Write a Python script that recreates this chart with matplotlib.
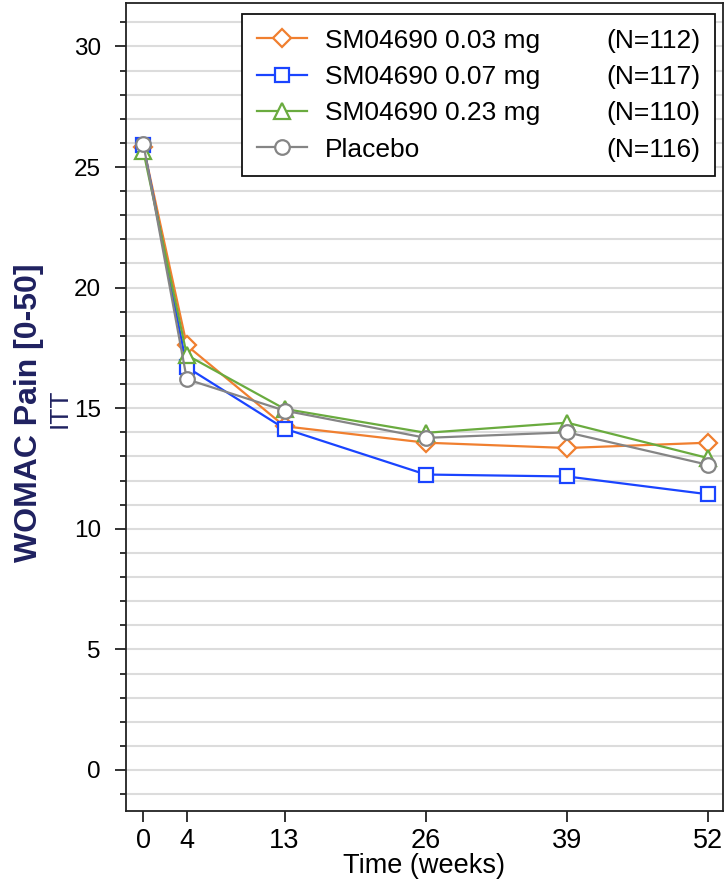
import matplotlib
matplotlib.use("Agg")
import matplotlib.pyplot as plt
from matplotlib.lines import Line2D
from matplotlib import font_manager as fm

weeks = [0, 4, 13, 26, 39, 52]
x_ticks = [0, 4, 13, 26, 39, 52]
y_ticks = [0, 5, 10, 15, 20, 25, 30]

dose_003 = [25.85, 17.6, 14.25, 13.57, 13.35, 13.57]
dose_007 = [25.9, 16.7, 14.15, 12.25, 12.17, 11.43]
dose_023 = [25.65, 17.2, 14.97, 13.98, 14.4, 12.93]
placebo = [25.95, 16.2, 14.9, 13.77, 14.0, 12.65]

series_names = ["SM04690 0.03 mg", "SM04690 0.07 mg", "SM04690 0.23 mg", "Placebo"]
series_n = ["(N=112)", "(N=117)", "(N=110)", "(N=116)"]
series_vals = [dose_003, dose_007, dose_023, placebo]
colors = ["#F07F2F", "#1A44FF", "#6AAB3F", "#858585"]
markers = ["D", "s", "^", "o"]
msizes = [9, 10, 11, 10.5]

available = {f.name for f in fm.fontManager.ttflist}
base = "Liberation Sans" if "Liberation Sans" in available else "DejaVu Sans"
narrow = "Liberation Sans Narrow" if "Liberation Sans Narrow" in available else base
plt.rcParams["font.family"] = [base, "DejaVu Sans"]

FS = 19.5

fig = plt.figure(figsize=(7.25, 8.84), dpi=100)
ax = fig.add_axes([126 / 725, 1 - 811 / 884, (723 - 126) / 725, (811 - 3) / 884])

for vals, name, c, m, ms in zip(series_vals, series_names, colors, markers, msizes):
    ax.plot(weeks, vals, color=c, lw=1.6, marker=m, ms=ms,
            mfc="white", mec=c, mew=1.6, label=name, zorder=3)

ax.set_xlim(-1.6, 53.35)
ax.set_ylim(-1.7, 31.8)
ax.set_xticks(x_ticks)
ax.set_yticks(y_ticks)
ax.set_yticks(range(-1, 32), minor=True)
ax.tick_params(axis="both", which="major", length=8, width=1.3, color="#222222", direction="out")
ax.tick_params(axis="x", which="major", labelsize=FS, pad=4)
ax.tick_params(axis="y", which="major", labelsize=17.5, pad=10)
ax.tick_params(axis="y", which="minor", length=4, width=1.3, color="#222222")
for yv in range(-1, 32):
    ax.axhline(yv, color="#dcdcdc", lw=1.5, zorder=1)
for sp in ax.spines.values():
    sp.set_color("#222222")
    sp.set_linewidth(1.3)

ax.set_xlabel("Time (weeks)", fontsize=FS, va="center")
ax.xaxis.set_label_coords(0.5, (811 - 866) / 808)

fig.text(29 / 725, 1 - 413 / 884, "WOMAC Pain [0-50]", rotation=90, ha="center", va="center",
         fontsize=23, fontweight="bold", color="#1F2160", family=[narrow, base])
fig.text(60 / 725, 1 - 408 / 884, "ITT", rotation=90, ha="center", va="center",
         fontsize=19, color="#1F2160", family=[narrow, base])

handles = ax.get_legend_handles_labels()[0]
empty = [Line2D([], [], linestyle="none") for _ in series_n]
x0 = (242 - 126) / 597
x1 = (715 - 126) / 597
ytop = (811 - 14) / 808
ybot = (811 - 173) / 808
leg = ax.legend(handles + empty, series_names + series_n, ncol=2, mode="expand",
                loc="upper left", bbox_to_anchor=(x0, ybot, x1 - x0, ytop - ybot),
                borderaxespad=0, fontsize=19, frameon=True, fancybox=False,
                edgecolor="#111111", framealpha=1, handlelength=1.9, handletextpad=0.68,
                borderpad=0.55, labelspacing=0.47, columnspacing=0.5)
leg.get_frame().set_linewidth(1.3)
leg.set_zorder(5)

fig.savefig("out.png", dpi=100)
